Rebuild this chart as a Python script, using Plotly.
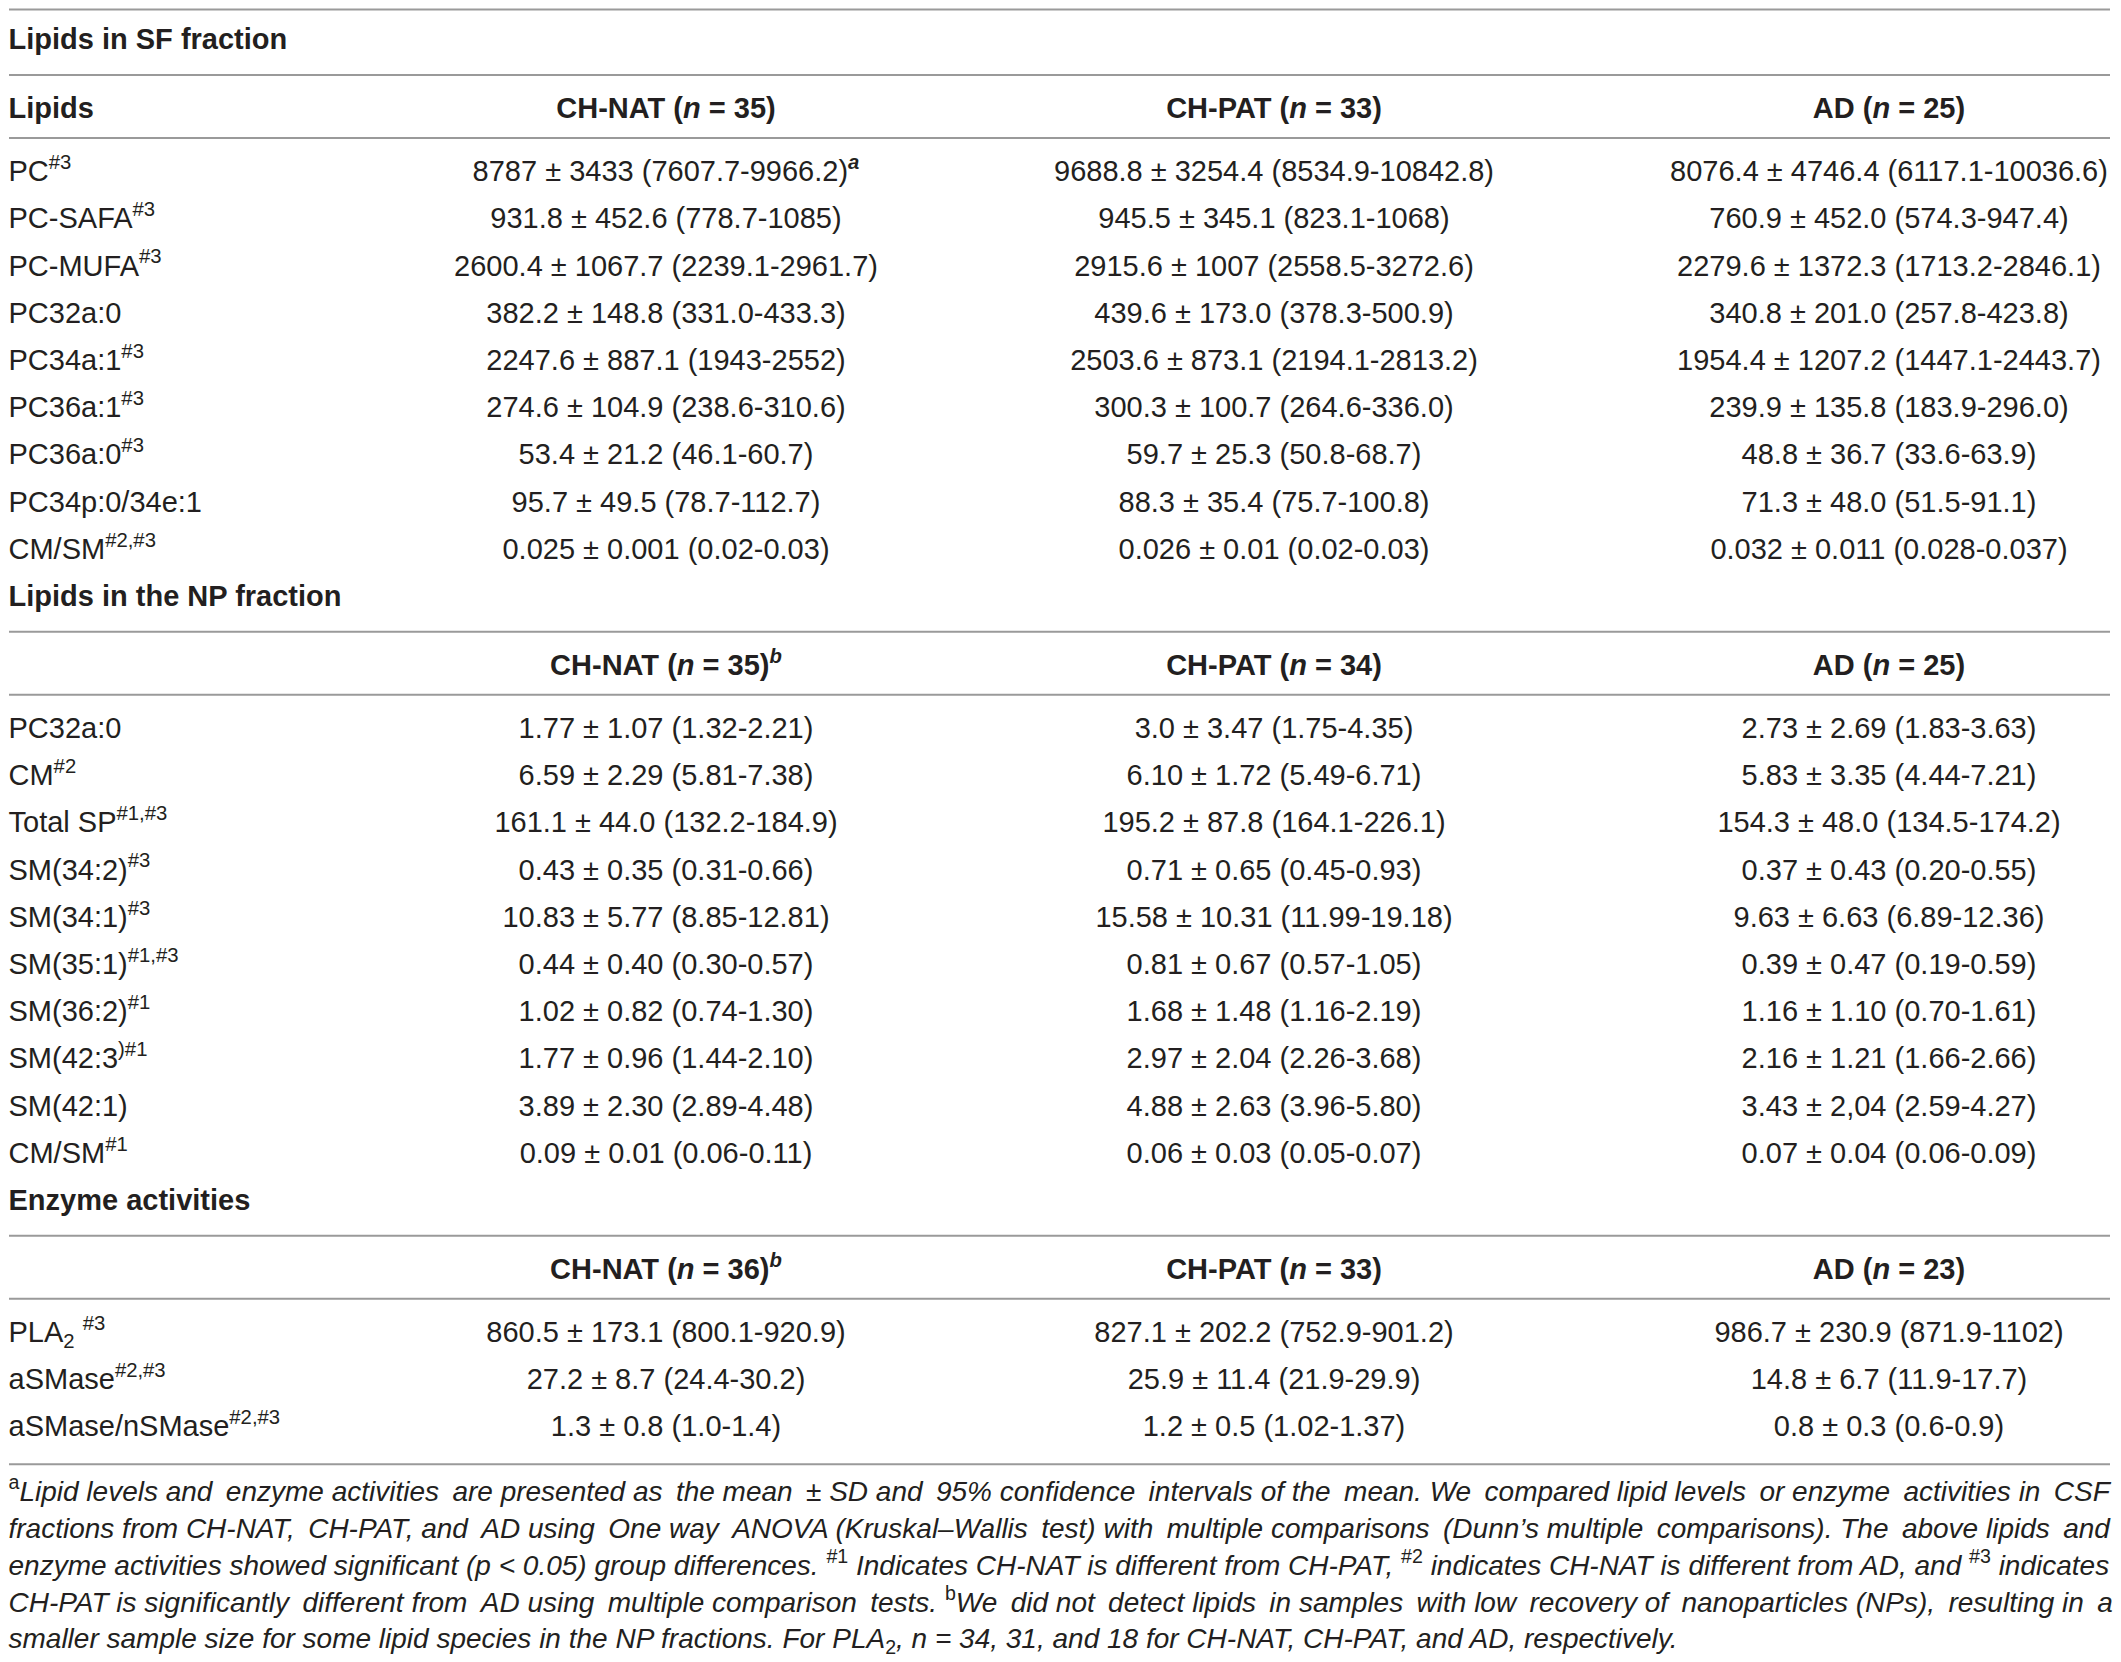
import plotly.graph_objects as go

# ---- table content -------------------------------------------------------
group_names = ["CH-NAT", "CH-PAT", "AD"]

sf_title = "Lipids in SF fraction"
sf_n = ["35)", "33)", "25)"]
sf_labels = ["PC<sup>#3</sup>", "PC-SAFA<sup>#3</sup>", "PC-MUFA<sup>#3</sup>", "PC32a:0",
             "PC34a:1<sup>#3</sup>", "PC36a:1<sup>#3</sup>", "PC36a:0<sup>#3</sup>",
             "PC34p:0/34e:1", "CM/SM<sup>#2,#3</sup>"]
sf_ch_nat = ["8787 ± 3433 (7607.7-9966.2)<sup><b><i>a</i></b></sup>", "931.8 ± 452.6 (778.7-1085)",
             "2600.4 ± 1067.7 (2239.1-2961.7)", "382.2 ± 148.8 (331.0-433.3)",
             "2247.6 ± 887.1 (1943-2552)", "274.6 ± 104.9 (238.6-310.6)",
             "53.4 ± 21.2 (46.1-60.7)", "95.7 ± 49.5 (78.7-112.7)",
             "0.025 ± 0.001 (0.02-0.03)"]
sf_ch_pat = ["9688.8 ± 3254.4 (8534.9-10842.8)", "945.5 ± 345.1 (823.1-1068)",
             "2915.6 ± 1007 (2558.5-3272.6)", "439.6 ± 173.0 (378.3-500.9)",
             "2503.6 ± 873.1 (2194.1-2813.2)", "300.3 ± 100.7 (264.6-336.0)",
             "59.7 ± 25.3 (50.8-68.7)", "88.3 ± 35.4 (75.7-100.8)",
             "0.026 ± 0.01 (0.02-0.03)"]
sf_ad = ["8076.4 ± 4746.4 (6117.1-10036.6)", "760.9 ± 452.0 (574.3-947.4)",
         "2279.6 ± 1372.3 (1713.2-2846.1)", "340.8 ± 201.0 (257.8-423.8)",
         "1954.4 ± 1207.2 (1447.1-2443.7)", "239.9 ± 135.8 (183.9-296.0)",
         "48.8 ± 36.7 (33.6-63.9)", "71.3 ± 48.0 (51.5-91.1)",
         "0.032 ± 0.011 (0.028-0.037)"]

np_title = "Lipids in the NP fraction"
np_n = ["35)<sup><i>b</i></sup>", "34)", "25)"]
np_labels = ["PC32a:0", "CM<sup>#2</sup>", "Total SP<sup>#1,#3</sup>", "SM(34:2)<sup>#3</sup>",
             "SM(34:1)<sup>#3</sup>", "SM(35:1)<sup>#1,#3</sup>", "SM(36:2)<sup>#1</sup>",
             "SM(42:3<sup>)#1</sup>", "SM(42:1)", "CM/SM<sup>#1</sup>"]
np_ch_nat = ["1.77 ± 1.07 (1.32-2.21)", "6.59 ± 2.29 (5.81-7.38)", "161.1 ± 44.0 (132.2-184.9)",
             "0.43 ± 0.35 (0.31-0.66)", "10.83 ± 5.77 (8.85-12.81)", "0.44 ± 0.40 (0.30-0.57)",
             "1.02 ± 0.82 (0.74-1.30)", "1.77 ± 0.96 (1.44-2.10)", "3.89 ± 2.30 (2.89-4.48)",
             "0.09 ± 0.01 (0.06-0.11)"]
np_ch_pat = ["3.0 ± 3.47 (1.75-4.35)", "6.10 ± 1.72 (5.49-6.71)", "195.2 ± 87.8 (164.1-226.1)",
             "0.71 ± 0.65 (0.45-0.93)", "15.58 ± 10.31 (11.99-19.18)", "0.81 ± 0.67 (0.57-1.05)",
             "1.68 ± 1.48 (1.16-2.19)", "2.97 ± 2.04 (2.26-3.68)", "4.88 ± 2.63 (3.96-5.80)",
             "0.06 ± 0.03 (0.05-0.07)"]
np_ad = ["2.73 ± 2.69 (1.83-3.63)", "5.83 ± 3.35 (4.44-7.21)", "154.3 ± 48.0 (134.5-174.2)",
         "0.37 ± 0.43 (0.20-0.55)", "9.63 ± 6.63 (6.89-12.36)", "0.39 ± 0.47 (0.19-0.59)",
         "1.16 ± 1.10 (0.70-1.61)", "2.16 ± 1.21 (1.66-2.66)", "3.43 ± 2,04 (2.59-4.27)",
         "0.07 ± 0.04 (0.06-0.09)"]

enz_title = "Enzyme activities"
enz_n = ["36)<sup><i>b</i></sup>", "33)", "23)"]
enz_labels = ["PLA<sub>2</sub> <sup>#3</sup>", "aSMase<sup>#2,#3</sup>", "aSMase/nSMase<sup>#2,#3</sup>"]
enz_ch_nat = ["860.5 ± 173.1 (800.1-920.9)", "27.2 ± 8.7 (24.4-30.2)", "1.3 ± 0.8 (1.0-1.4)"]
enz_ch_pat = ["827.1 ± 202.2 (752.9-901.2)", "25.9 ± 11.4 (21.9-29.9)", "1.2 ± 0.5 (1.02-1.37)"]
enz_ad = ["986.7 ± 230.9 (871.9-1102)", "14.8 ± 6.7 (11.9-17.7)", "0.8 ± 0.3 (0.6-0.9)"]

footnotes = [
    "<sup>a</sup><i>Lipid levels and enzyme activities are presented as the mean ± SD and 95% confidence intervals of the mean. We compared lipid levels or enzyme activities in CSF</i>",
    "<i>fractions from CH-NAT, CH-PAT, and AD using One way ANOVA (Kruskal–Wallis test) with multiple comparisons (Dunn’s multiple comparisons). The above lipids and</i>",
    "<i>enzyme activities showed significant (p &lt; 0.05) group differences.</i> <sup>#1</sup> <i>Indicates CH-NAT is different from CH-PAT,</i> <sup>#2</sup> <i>indicates CH-NAT is different from AD, and</i> <sup>#3</sup> <i>indicates</i>",
    "<i>CH-PAT is significantly different from AD using multiple comparison tests.</i> <sup>b</sup><i>We did not detect lipids in samples with low recovery of nanoparticles (NPs), resulting in a</i>",
    "<i>smaller sample size for some lipid species in the NP fractions. For PLA</i><sub>2</sub><i>, n = 34, 31, and 18 for CH-NAT, CH-PAT, and AD, respectively.</i>",
]

sections = [
    (sf_title, "Lipids", sf_n, sf_labels, [sf_ch_nat, sf_ch_pat, sf_ad]),
    (np_title, "", np_n, np_labels, [np_ch_nat, np_ch_pat, np_ad]),
    (enz_title, "", enz_n, enz_labels, [enz_ch_nat, enz_ch_pat, enz_ad]),
]

# ---- layout constants (all in page pixels) --------------------------------
W, H = 2121, 1662
PAD = 8               # default page body margin; the figure starts here
X_LEFT, X_RIGHT = 9, 2110
TEXT_X = 8.5
COL_X = [666, 1274, 1889]
PITCH = 47.2
BODY, BOLD, NOTE = 29, 29, 28
NOTE_JUSTIFY = [11, 10, 0, 12, 0]   # thin spaces added so the notes fill the width
FONT = "Liberation Sans"
INK = "#231f20"
RULE = "#9a9a9a"


def justify(line, extra):
    # spread `extra` thin spaces over the word gaps of a line
    parts = line.split(" ")
    gaps = len(parts) - 1
    out = parts[0]
    for i, p in enumerate(parts[1:]):
        k = (i + 1) * extra // gaps - i * extra // gaps
        out += " " + "\u2009" * k + p
    return out


# text groups: (anchor, size) -> x, y, text
groups = {
    ("left", BOLD): ([], [], []),
    ("left", BODY): ([], [], []),
    ("left", NOTE): ([], [], []),
    ("mid", BOLD): ([], [], []),
    ("mid", BODY): ([], [], []),
}


def put(key, x, y, t):
    gx, gy, gt = groups[key]
    gx.append(x); gy.append(y); gt.append(t)


rules = [9.5]
y = 42
for title, first_head, heads, labels, cols in sections:
    put(("left", BOLD), TEXT_X, y, "<b>" + title + "</b>")
    rules.append(y + 33)
    hy = y + 69
    if first_head:
        put(("left", BOLD), TEXT_X, hy, "<b>" + first_head + "</b>")
    for cx, g, n in zip(COL_X, group_names, heads):
        put(("mid", BOLD), cx, hy, "<b>" + g + " (<i>n</i> = " + n + "</b>")
    rules.append(y + 96)
    ry = y + 132
    for i, lab in enumerate(labels):
        yy = ry + i * PITCH
        put(("left", BODY), TEXT_X, yy, lab)
        for cx, col in zip(COL_X, cols):
            put(("mid", BODY), cx, yy, col[i])
    y = ry + len(labels) * PITCH

last_row = y - PITCH
rules.append(last_row + 35)

for k, (note, extra) in enumerate(zip(footnotes, NOTE_JUSTIFY)):
    put(("left", NOTE), TEXT_X, last_row + 65 + k * 36.8, justify(note, extra))

fig = go.Figure()
for (anchor, size), (gx, gy, gt) in groups.items():
    fig.add_trace(go.Scatter(
        x=gx, y=gy, text=gt, mode="text",
        textposition="middle right" if anchor == "left" else "middle center",
        textfont=dict(family=FONT, size=size, color=INK),
        hoverinfo="skip", showlegend=False, cliponaxis=False))

for ry in rules:
    fig.add_shape(type="line", xref="x", yref="y", x0=X_LEFT, x1=X_RIGHT, y0=ry, y1=ry,
                  line=dict(color=RULE, width=2))

fig.update_xaxes(range=[PAD, W], visible=False, fixedrange=True)
fig.update_yaxes(range=[H, PAD], visible=False, fixedrange=True)
fig.update_layout(width=W - PAD, height=H - PAD, margin=dict(l=0, r=0, t=0, b=0),
                  plot_bgcolor="white", paper_bgcolor="white")

fig.write_html("out.html")
